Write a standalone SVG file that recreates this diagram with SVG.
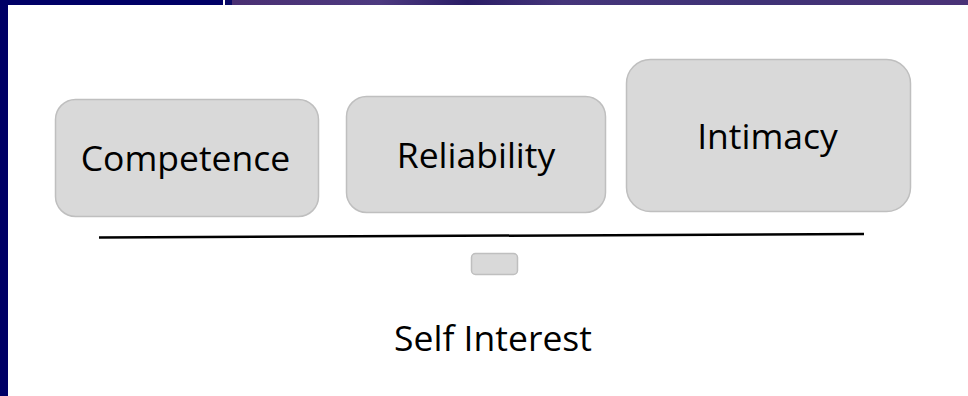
<svg xmlns="http://www.w3.org/2000/svg" width="968" height="396" viewBox="0 0 968 396">
<style>
.box{fill:#d9d9d9;stroke:#bfbfbf;stroke-width:1.5}
.lbl{font-family:"Open Sans","Liberation Sans",sans-serif;font-size:35.5px;fill:#000;text-anchor:middle}
</style>
<defs>
<linearGradient id="band" x1="0" y1="0" x2="1" y2="0">
<stop offset="0" stop-color="#4a2f72"/>
<stop offset="0.2" stop-color="#4d3a80"/>
<stop offset="0.32" stop-color="#2a1d66"/>
<stop offset="0.45" stop-color="#45357a"/>
<stop offset="0.7" stop-color="#3f3276"/>
<stop offset="1" stop-color="#4a3277"/>
</linearGradient>
</defs>
<rect width="968" height="396" fill="#fff"/>
<g id="frame">
<rect x="0" y="0" width="223" height="5" fill="#000066"/>
<rect x="0" y="0" width="8" height="396" fill="#000066"/>
<rect x="225" y="0" width="8" height="5" fill="#0a0a66"/>
<rect x="232" y="0" width="736" height="5" fill="url(#band)"/>
</g>
<g id="connectors">
<line x1="99" y1="237.5" x2="864" y2="234" stroke="#000" stroke-width="2.5"/>
</g>
<g id="competence">
<rect class="box" x="55.5" y="99.5" width="263" height="117" rx="20"/>
<text class="lbl" x="185.5" y="171">Competence</text>
</g>
<g id="reliability">
<rect class="box" x="346.5" y="96.5" width="259" height="116" rx="20"/>
<text class="lbl" x="476" y="168">Reliability</text>
</g>
<g id="intimacy">
<rect class="box" x="626.5" y="59.5" width="284" height="152" rx="24"/>
<text class="lbl" x="767.5" y="149">Intimacy</text>
</g>
<g id="fulcrum">
<rect class="box" x="471.5" y="253.5" width="46" height="21" rx="4"/>
</g>
<g id="self-interest">
<text class="lbl" x="493" y="351">Self Interest</text>
</g>
</svg>
